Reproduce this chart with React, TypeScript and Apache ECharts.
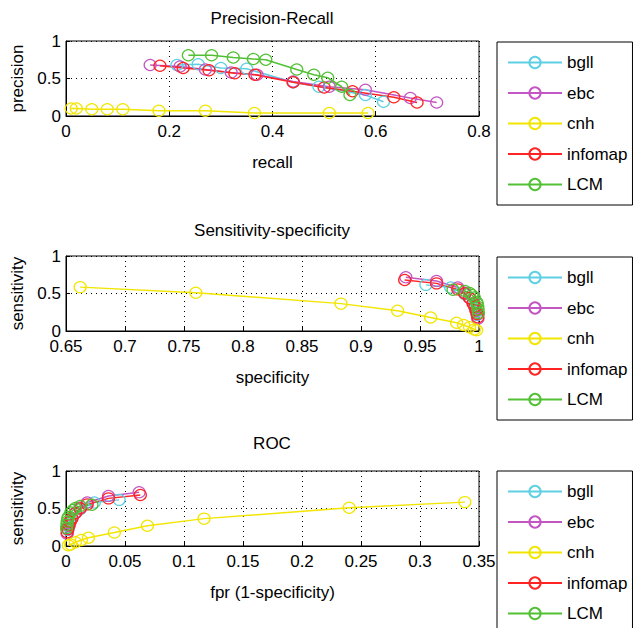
import React, { useEffect, useRef } from "react";
import * as echarts from "echarts";

const FONT = "'Liberation Sans', Arial, Helvetica, sans-serif";

const seriesNames = ["bgll", "ebc", "cnh", "infomap", "LCM"];
const seriesColors = ["#5fd0e4", "#c456c4", "#f2e600", "#ff2424", "#52c034"];

// recall (= sensitivity), precision, false-positive rate for each method
const bgllRecall = [0.215, 0.256, 0.30, 0.35, 0.44, 0.49, 0.58, 0.615];
const bgllPrecision = [0.68, 0.69, 0.64, 0.63, 0.45, 0.39, 0.28, 0.19];
const bgllFpr = [0.0015, 0.002, 0.003, 0.004, 0.008, 0.012, 0.024, 0.045];

const ebcRecall = [0.163, 0.221, 0.27, 0.32, 0.37, 0.44, 0.51, 0.58, 0.667, 0.718];
const ebcPrecision = [0.68, 0.66, 0.62, 0.58, 0.55, 0.46, 0.39, 0.35, 0.24, 0.18];
const ebcFpr = [0.001, 0.0015, 0.0025, 0.0035, 0.005, 0.008, 0.012, 0.018, 0.036, 0.062];

const cnhRecall = [0.585, 0.51, 0.365, 0.27, 0.18, 0.11, 0.08, 0.05, 0.02, 0.01];
const cnhPrecision = [0.04, 0.04, 0.04, 0.07, 0.07, 0.09, 0.09, 0.09, 0.1, 0.1];
const cnhFpr = [0.338, 0.24, 0.117, 0.069, 0.041, 0.019, 0.013, 0.008, 0.004, 0.002];

const infomapRecall = [0.182, 0.227, 0.277, 0.327, 0.366, 0.44, 0.50, 0.555, 0.635, 0.68];
const infomapPrecision = [0.67, 0.64, 0.61, 0.57, 0.55, 0.45, 0.38, 0.33, 0.25, 0.18];
const infomapFpr = [0.001, 0.0015, 0.0025, 0.0035, 0.005, 0.008, 0.012, 0.018, 0.036, 0.063];

const lcmRecall = [0.237, 0.282, 0.324, 0.363, 0.387, 0.447, 0.48, 0.507, 0.534, 0.55];
const lcmPrecision = [0.81, 0.81, 0.78, 0.76, 0.75, 0.62, 0.55, 0.51, 0.39, 0.28];
const lcmFpr = [0.0005, 0.0008, 0.001, 0.0015, 0.002, 0.004, 0.006, 0.008, 0.012, 0.022];

const recalls = [bgllRecall, ebcRecall, cnhRecall, infomapRecall, lcmRecall];
const precisions = [bgllPrecision, ebcPrecision, cnhPrecision, infomapPrecision, lcmPrecision];
const fprs = [bgllFpr, ebcFpr, cnhFpr, infomapFpr, lcmFpr];

const panelTitles = ["Precision-Recall", "Sensitivity-specificity", "ROC"];
const xNames = ["recall", "specificity", "fpr (1-specificity)"];
const yNames = ["precision", "sensitivity", "sensitivity"];
const xMins = [0, 0.65, 0];
const xMaxs = [0.8, 1, 0.35];
const xIntervals = [0.2, 0.05, 0.05];

const GRID_TOPS = [41, 256, 471];
const TITLE_TOPS = [10, 222, 435];
const LEGEND_TOPS = [42, 257, 471];

function fmt(v: number) {
  return String(+v.toFixed(2));
}

export default function App() {
  const ref = useRef<HTMLDivElement>(null);
  useEffect(() => {
    if (!ref.current) return;
    const chart = echarts.init(ref.current, undefined, { renderer: "svg" });

    const grid = GRID_TOPS.map((t) => ({
      left: 66,
      top: t,
      width: 413,
      height: 75,
      show: true,
      borderColor: "#000",
      borderWidth: 1,
      backgroundColor: "transparent",
    }));

    const xAxis = [0, 1, 2].map((i) => ({
      type: "value",
      gridIndex: i,
      min: xMins[i],
      max: xMaxs[i],
      interval: xIntervals[i],
      name: xNames[i],
      nameLocation: "middle",
      nameGap: 38,
      nameTextStyle: { fontSize: 17, color: "#000", fontFamily: FONT },
      axisLine: { show: true, onZero: false, lineStyle: { color: "#000", width: 1 } },
      axisTick: { show: true, inside: true, length: 4, lineStyle: { color: "#000" } },
      axisLabel: { fontSize: 17, color: "#000", margin: 7, fontFamily: FONT, formatter: fmt },
      splitLine: { show: true, lineStyle: { color: "#000", type: [1, 4], width: 1 } },
    }));

    const yAxis = [0, 1, 2].map((i) => ({
      type: "value",
      gridIndex: i,
      min: 0,
      max: 1,
      interval: 0.5,
      name: yNames[i],
      nameLocation: "middle",
      nameGap: 33,
      nameTextStyle: { fontSize: 17, color: "#000", fontFamily: FONT },
      axisLine: { show: true, onZero: false, lineStyle: { color: "#000", width: 1 } },
      axisTick: { show: true, inside: true, length: 4, lineStyle: { color: "#000" } },
      axisLabel: { fontSize: 17, color: "#000", margin: 5, fontFamily: FONT, formatter: fmt },
      splitLine: { show: true, lineStyle: { color: "#000", type: [1, 4], width: 1 } },
    }));

    const title = [0, 1, 2].map((i) => ({
      text: panelTitles[i],
      left: 272,
      top: TITLE_TOPS[i],
      textAlign: "center",
      padding: 0,
      textStyle: { fontSize: 17, fontWeight: "normal", color: "#000", fontFamily: FONT },
    }));

    const legend = [0, 1, 2].map((i) => ({
      orient: "vertical",
      left: 497,
      top: LEGEND_TOPS[i],
      height: 175,
      itemWidth: 54,
      itemHeight: 14,
      itemGap: 13.5,
      padding: [12, 5, 12, 10],
      borderColor: "#000",
      borderWidth: 1,
      borderRadius: 0,
      backgroundColor: "#fff",
      selectedMode: false,
      textStyle: { fontSize: 17, color: "#000", fontFamily: FONT },
      data: seriesNames,
    }));

    const series: any[] = [];
    for (let p = 0; p < 3; p++) {
      for (let s = 0; s < seriesNames.length; s++) {
        const rec = recalls[s];
        let data: number[][];
        if (p === 0) data = rec.map((r, k) => [r, precisions[s][k]]);
        else if (p === 1) data = rec.map((r, k) => [1 - fprs[s][k], r]);
        else data = rec.map((r, k) => [fprs[s][k], r]);
        series.push({
          type: "line",
          name: seriesNames[s],
          xAxisIndex: p,
          yAxisIndex: p,
          data,
          color: seriesColors[s],
          symbol: "circle",
          symbolSize: [12, 11],
          showSymbol: true,
          showAllSymbol: true,
          clip: false,
          lineStyle: { width: 1.5, color: seriesColors[s] },
          itemStyle: { color: "rgba(0,0,0,0)", borderColor: seriesColors[s], borderWidth: 1.2 },
          emphasis: { disabled: true },
        });
      }
    }

    chart.setOption({
      animation: false,
      backgroundColor: "#fff",
      textStyle: { fontFamily: FONT },
      title,
      legend,
      grid,
      xAxis,
      yAxis,
      series,
    });
    return () => chart.dispose();
  }, []);

  return (
    <div
      ref={ref}
      style={{ position: "fixed", left: 0, top: 0, width: 637, height: 628, background: "#fff" }}
    />
  );
}
